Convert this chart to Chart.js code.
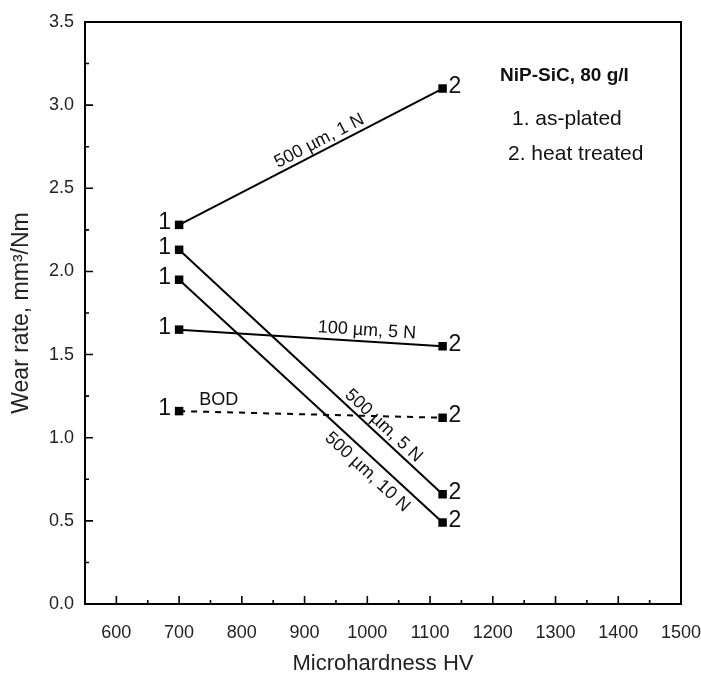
<!DOCTYPE html>
<html>
<head>
<meta charset="utf-8">
<script src="https://cdn.jsdelivr.net/npm/chart.js@4.4.1/dist/chart.umd.min.js"></script>
<style>
  html, body { margin: 0; padding: 0; background: #fff; }
  #wrap { width: 701px; height: 683px; }
</style>
</head>
<body>
<div id="wrap"><canvas id="chart-wear"></canvas></div>
<script>
// Wear rate vs microhardness, NiP-SiC 80 g/l
let hardness = [700, 1120];
let wear500um1N = [2.28, 3.10];
let wear500um5N = [2.13, 0.66];
let wear500um10N = [1.95, 0.49];
let wear100um5N = [1.65, 1.55];
let wearBOD = [1.16, 1.12];
let seriesNames = ['500 µm, 1 N', '500 µm, 5 N', '500 µm, 10 N', '100 µm, 5 N', 'BOD'];
let pointLabels = ['1', '2'];
let xTicks = [600, 700, 800, 900, 1000, 1100, 1200, 1300, 1400, 1500];
let yTicks = [0, 0.5, 1.0, 1.5, 2.0, 2.5, 3.0, 3.5];
let noteLines = ['NiP-SiC, 80 g/l', '1. as-plated', '2. heat treated'];

let sans = "'Liberation Sans', Arial, sans-serif";

function toPoints(ys) {
    return hardness.map((x, i) => ({ x: x, y: ys[i] }));
}

function lineSet(name, ys, dashed) {
    return {
        label: name,
        data: toPoints(ys),
        borderColor: '#000',
        backgroundColor: '#000',
        borderWidth: 2,
        borderDash: dashed ? [6, 6] : [],
        pointStyle: 'rect',
        pointRadius: 6,
        pointBorderWidth: 0,
        showLine: true,
        fill: false
    };
}

// where each line label sits: fraction along line, side (-1 above, 1 below), gap
let labelPlace = [
    { t: 0.55, side: -1, gap: 1 },
    { t: 0.75, side: -1, gap: 1 },
    { t: 0.75, side: 1, gap: 5 },
    { t: 0.71, side: -1, gap: 2 },
    { t: 0.15, side: -1, gap: 3 }
];

let framePlugin = {
    id: 'frame',
    afterDraw(chart) {
        let ctx = chart.ctx;
        let a = chart.chartArea;
        let xs = chart.scales.x, ys = chart.scales.y;
        ctx.save();
        ctx.strokeStyle = '#000';
        ctx.lineWidth = 2;
        ctx.strokeRect(a.left, a.top, a.right - a.left, a.bottom - a.top);
        ctx.lineWidth = 1.6;
        ctx.beginPath();
        for (let v = 550; v <= 1500; v += 50) {
            let px = xs.getPixelForValue(v);
            let len = (v % 100 === 0) ? 8 : 4;
            ctx.moveTo(px, a.bottom);
            ctx.lineTo(px, a.bottom - len);
        }
        for (let v = 0; v <= 3.5001; v += 0.25) {
            let py = ys.getPixelForValue(v);
            let len = (Math.round(v * 100) % 50 === 0) ? 8 : 4;
            ctx.moveTo(a.left, py);
            ctx.lineTo(a.left + len, py);
        }
        ctx.stroke();
        ctx.restore();
    },
    afterDatasetsDraw(chart) {
        let ctx = chart.ctx;
        ctx.save();
        ctx.fillStyle = '#111';
        chart.data.datasets.forEach((ds, i) => {
            let meta = chart.getDatasetMeta(i);
            let p0 = meta.data[0], p1 = meta.data[1];
            // 1 / 2 markers
            ctx.font = '23px ' + sans;
            ctx.textBaseline = 'middle';
            ctx.textAlign = 'right';
            ctx.fillText(pointLabels[0], p0.x - 8, p0.y - 2);
            ctx.textAlign = 'left';
            ctx.fillText(pointLabels[1], p1.x + 6, p1.y - 2);
            // line label
            let lp = labelPlace[i];
            let ang = Math.atan2(p1.y - p0.y, p1.x - p0.x);
            if (i === 4) ang = 0;
            let cx = p0.x + (p1.x - p0.x) * lp.t;
            let cy = p0.y + (p1.y - p0.y) * lp.t;
            ctx.save();
            ctx.translate(cx, cy);
            ctx.rotate(ang);
            ctx.font = '18px ' + sans;
            ctx.textAlign = 'center';
            ctx.textBaseline = lp.side < 0 ? 'bottom' : 'top';
            ctx.fillText(ds.label, 0, lp.side * lp.gap);
            ctx.restore();
        });
        // note block
        ctx.textAlign = 'left';
        ctx.textBaseline = 'middle';
        ctx.font = 'bold 19px ' + sans;
        ctx.fillText(noteLines[0], 500, 76);
        ctx.font = '21px ' + sans;
        ctx.fillText(noteLines[1], 512, 119);
        ctx.fillText(noteLines[2], 508, 154);
        ctx.restore();
    }
};

let chartWear = new Chart(document.getElementById('chart-wear').getContext('2d'), {
    type: 'scatter',
    data: {
        datasets: [
            lineSet(seriesNames[0], wear500um1N, false),
            lineSet(seriesNames[1], wear500um5N, false),
            lineSet(seriesNames[2], wear500um10N, false),
            lineSet(seriesNames[3], wear100um5N, false),
            lineSet(seriesNames[4], wearBOD, true)
        ]
    },
    options: {
        responsive: true,
        maintainAspectRatio: false,
        animation: false,
        layout: { padding: { top: 22, right: 20, left: 0, bottom: 0 } },
        plugins: {
            legend: { display: false },
            tooltip: { enabled: false }
        },
        scales: {
            x: {
                type: 'linear',
                min: 550,
                max: 1500,
                afterBuildTicks: s => { s.ticks = xTicks.map(v => ({ value: v })); },
                afterFit: s => { s.height = 79; s.paddingRight = 0; s.paddingLeft = 0; },
                grid: { display: false, drawTicks: false },
                border: { display: false },
                ticks: {
                    color: '#222',
                    font: { size: 18, family: sans },
                    padding: 18,
                    maxRotation: 0,
                    autoSkip: false,
                    callback: v => String(v)
                },
                title: {
                    display: true,
                    text: 'Microhardness HV',
                    color: '#222',
                    font: { size: 22, family: sans },
                    padding: { top: 0, bottom: 6 }
                }
            },
            y: {
                type: 'linear',
                min: 0,
                max: 3.5,
                afterBuildTicks: s => { s.ticks = yTicks.map(v => ({ value: v })); },
                afterFit: s => { s.width = 85; },
                grid: { display: false, drawTicks: false },
                border: { display: false },
                ticks: {
                    color: '#222',
                    font: { size: 18, family: sans },
                    padding: 11,
                    callback: v => v.toFixed(1)
                },
                title: {
                    display: true,
                    text: 'Wear rate, mm³/Nm',
                    color: '#222',
                    font: { size: 23, family: sans },
                    padding: { top: 8, bottom: 0 }
                }
            }
        }
    },
    plugins: [framePlugin]
});
</script>
</body>
</html>
